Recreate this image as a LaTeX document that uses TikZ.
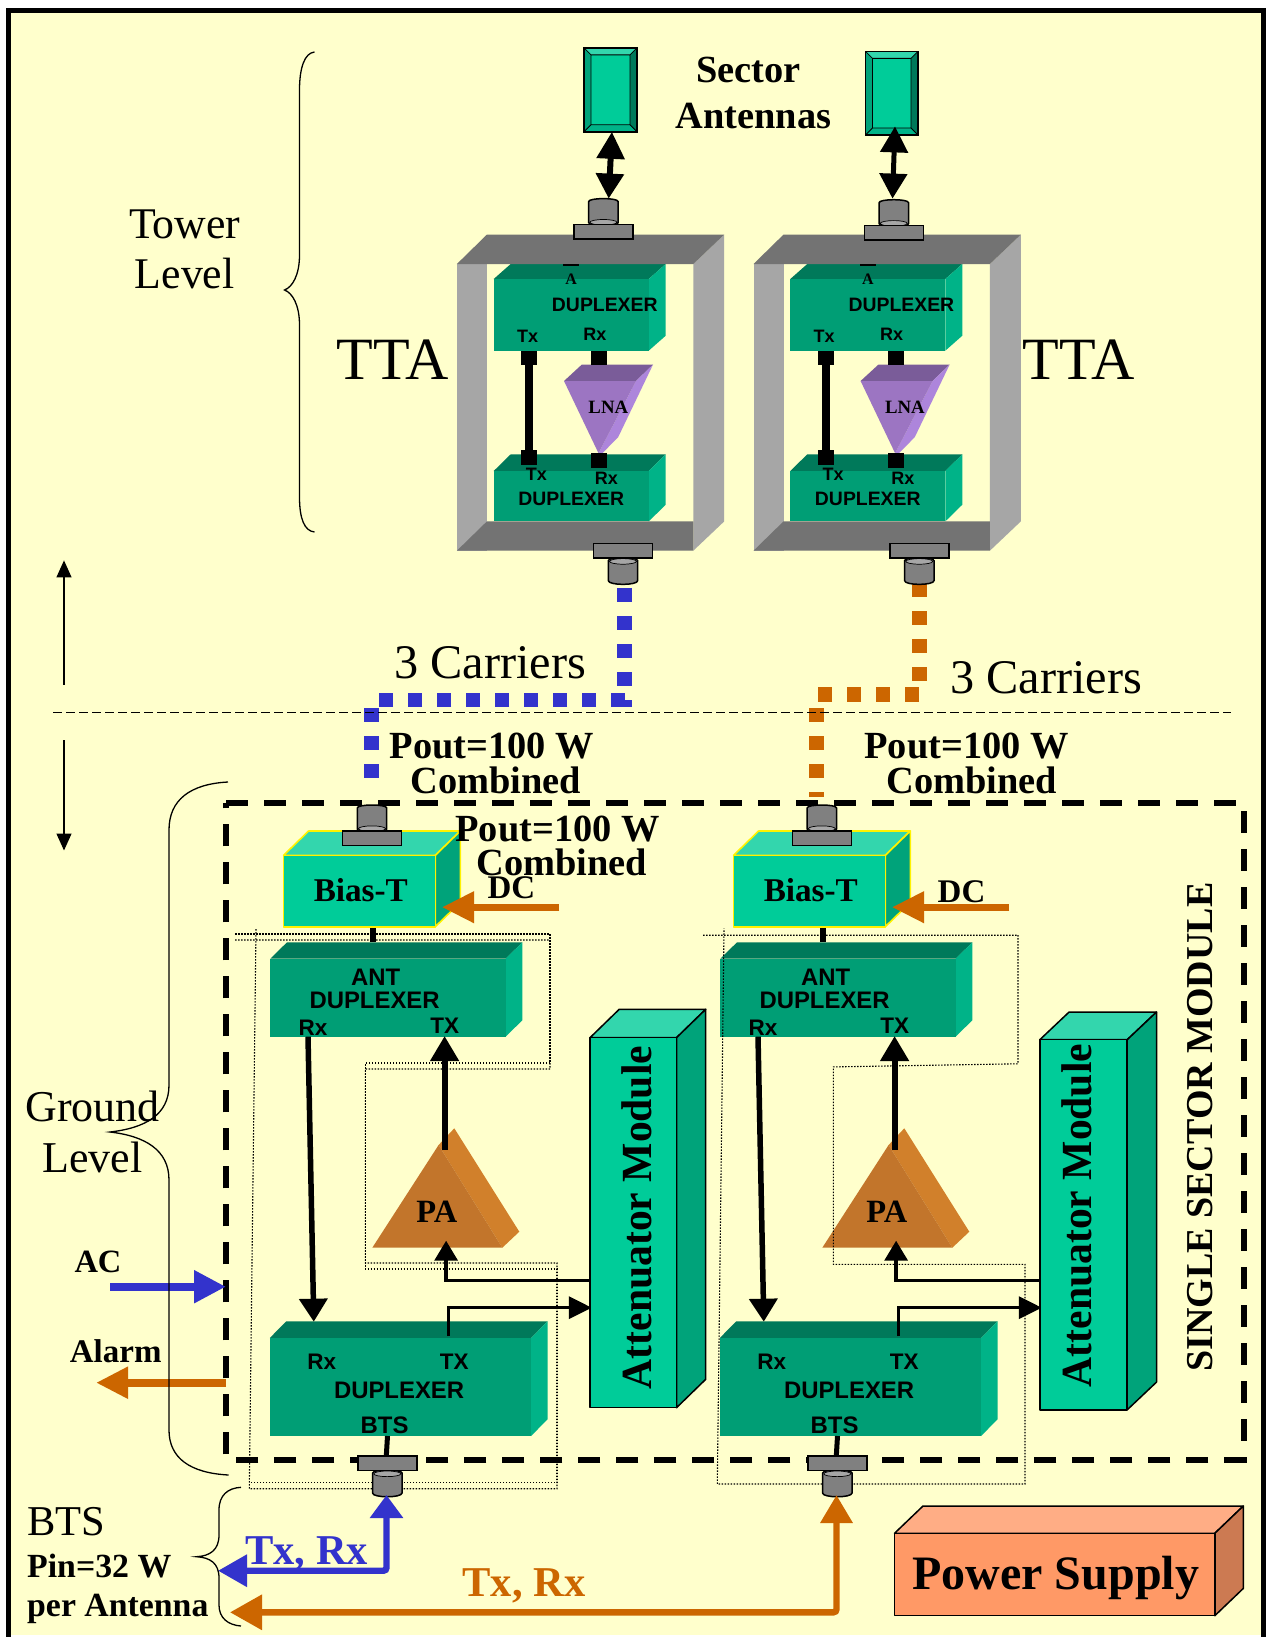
\documentclass[tikz,border=0pt]{standalone}
\usepackage{fontspec}
\setmainfont{Liberation Serif}
\setsansfont{Liberation Sans}
\usetikzlibrary{arrows.meta}
\definecolor{bgy}{HTML}{FFFFCC}
\definecolor{dupF}{HTML}{009E75}
\definecolor{dupT}{HTML}{00795A}
\definecolor{dupS}{HTML}{00B388}
\definecolor{modF}{HTML}{00CC99}
\definecolor{modT}{HTML}{33D6AD}
\definecolor{modS}{HTML}{00A37A}
\definecolor{psF}{HTML}{FF9966}
\definecolor{psT}{HTML}{FFAD85}
\definecolor{psS}{HTML}{CC7A52}
\definecolor{frL}{HTML}{A6A6A6}
\definecolor{frD}{HTML}{737373}
\definecolor{lnaF}{HTML}{9C75C2}
\definecolor{lnaT}{HTML}{7A5C99}
\definecolor{lnaS}{HTML}{AD85DB}
\definecolor{paF}{HTML}{C2752B}
\definecolor{paS}{HTML}{D1802B}
\definecolor{orng}{HTML}{CC6600}
\definecolor{blu}{HTML}{3333CC}
\definecolor{congray}{HTML}{808080}
\definecolor{conlight}{HTML}{A6A6A6}
\tikzset{
  txtb/.style={inner sep=0pt,font=\fontsize{#1}{#1}\selectfont\bfseries},
  txtr/.style={inner sep=0pt,font=\fontsize{#1}{#1}\selectfont},
  txts/.style={inner sep=0pt,font=\fontsize{#1}{#1}\selectfont\sffamily\bfseries},
  thin line/.style={line width=1.3pt},
  squaredash/.style={line width=14.5pt,dash pattern=on 14pt off 14pt},
  squaredashh/.style={line width=14.5pt,dash pattern=on 14.5pt off 14.5pt},
  dots/.style={line width=1.1pt,dash pattern=on 1.5pt off 1.5pt,black},
  boxline/.style={draw=black,line width=1.5pt,line join=round},
  biasline/.style={draw=yellow,line width=1.6pt,line join=round},
}
% front x0 y0 x1 y1, depth dx dy, palette prefix, draw options
\newcommand{\prism}[8]{%
  \path[fill=#7T,#8] (#1,#2)--(#1+#5,#2-#6)--(#3+#5,#2-#6)--(#3,#2)--cycle;
  \path[fill=#7S,#8] (#3,#2)--(#3+#5,#2-#6)--(#3+#5,#4-#6)--(#3,#4)--cycle;
  \path[fill=#7F,#8] (#1,#2) rectangle (#3,#4);
}
% antenna x0 y0 x1 y1
\newcommand{\antenna}[4]{%
  \fill[modS] (#1,#2) rectangle (#3,#4);
  \fill[modT] (#1,#2)--(#3,#2)--(#3-7,#2+7)--(#1+7,#2+7)--cycle;
  \fill[dupT] (#3,#2)--(#3,#4)--(#3-7,#4-7)--(#3-7,#2+7)--cycle;
  \fill[dupS] (#1,#4)--(#3,#4)--(#3-7,#4-7)--(#1+7,#4-7)--cycle;
  \fill[modF] (#1+7,#2+7) rectangle (#3-7,#4-7);
  \draw[line width=1.5pt] (#1,#2) rectangle (#3,#4);
  \draw[line width=.8pt] (#1,#2)--(#1+7,#2+7) (#3,#2)--(#3-7,#2+7) (#1,#4)--(#1+7,#4-7) (#3,#4)--(#3-7,#4-7) (#1+7,#2+7) rectangle (#3-7,#4-7);
}
% connector with cylinder above the plate: cx, plate top
\newcommand{\conup}[2]{%
  \begin{scope}[shift={(#1,#2)}]
    \filldraw[fill=congray,line width=1.5pt] (-14.7,-2)--(-14.7,-23) .. controls (-14.7,-27) and (14.7,-27) .. (14.7,-23)--(14.7,-2) .. controls (14.7,2.5) and (-14.7,2.5) .. (-14.7,-2)--cycle;
    \filldraw[fill=conlight,line width=.7pt] (0,-2.3) ellipse (13.5 and 2.8);
    \filldraw[fill=congray,line width=1.5pt] (-29.5,0) rectangle (29.5,14.5);
  \end{scope}
}
% connector with cylinder below the plate: cx, plate top
\newcommand{\condown}[2]{%
  \begin{scope}[shift={(#1,#2)}]
    \filldraw[fill=congray,line width=1.5pt] (-14.7,17)--(-14.7,37) .. controls (-14.7,42) and (14.7,42) .. (14.7,37)--(14.7,17) .. controls (14.7,13) and (-14.7,13) .. (-14.7,17)--cycle;
    \filldraw[fill=conlight,line width=.7pt] (0,17.8) ellipse (13.5 and 2.8);
    \filldraw[fill=congray,line width=1.5pt] (-29.5,0) rectangle (29.5,14.5);
  \end{scope}
}
% tower-top amplifier: prefix, x shift
\newcommand{\tta}[2]{%
  \begin{scope}[shift={(#2,0)}]
    \fill[frL] (456.4,264) rectangle (486.4,550.7);
    \fill[frL] (692.8,264)--(723.7,234.6)--(723.7,521.4)--(692.8,550.7)--cycle;
    \prism{493.2}{279}{648.2}{350.7}{17}{15}{dup}{}
    \prism{493.2}{471}{648.2}{521.4}{17}{16.7}{dup}{}
    \fill[frD] (456.4,264)--(486.4,234.6)--(723.7,234.6)--(692.8,264)--cycle;
    \fill[frD] (456.4,550.7)--(486.4,521.4)--(692.8,521.4)--(692.8,550.7)--cycle;
    \fill (562.7,264) rectangle (578.6,265.7);
    \fill[lnaT] (563.5,381)--(581.3,364.6)--(652.5,364.6)--(635.5,381)--cycle;
    \fill[lnaS] (635.5,381)--(652.5,364.6)--(617.7,437.1)--(601.9,453.2)--(598,453.2)--cycle;
    \fill[lnaF] (563.5,381)--(635.5,381)--(598,453.2)--cycle;
    \fill (520.8,350.7) rectangle (536.6,364.6);
    \fill (590.8,350.7) rectangle (606.6,364.6);
    \fill (520.8,450) rectangle (536.6,464.6);
    \fill (590.8,452.9) rectangle (606.6,467.5);
    \coordinate (#1link1) at (528.7,364.6);
    \coordinate (#1link2) at (528.7,450);
    \draw[line width=7.5pt] (#1link1)--(#1link2);
    \node[txtb=16] (#1a) at (570.7,279.3) {A};
    \node[txts=19.4] (#1d1) at (604.3,305) {DUPLEXER};
    \node[txts=18] (#1t1) at (527,336) {Tx};
    \node[txts=18] (#1r1) at (594.4,334) {Rx};
    \node[txtb=18.8] (#1lna) at (607.8,406.8) {LNA};
    \node[txts=18] (#1t2) at (535.9,474.3) {Tx};
    \node[txts=18] (#1r2) at (605.8,477.9) {Rx};
    \node[txts=19.4] (#1d2) at (570.7,498.6) {DUPLEXER};
  \end{scope}
}
% ground module: prefix, x shift
\newcommand{\module}[2]{%
  \begin{scope}[shift={(#2,0)}]
    \prism{283.3}{855.3}{435}{926.7}{25}{24.3}{mod}{biasline}
    \prism{270}{958.7}{505.3}{1036.7}{16.7}{16.4}{dup}{}
    \prism{269.5}{1338}{530.8}{1436}{16.4}{16.7}{dup}{}
    \fill[paS] (438.3,1145)--(454,1128.3)--(519,1231.7)--(502,1247.7)--cycle;
    \fill[paF] (372,1247.7)--(502,1247.7)--(438.3,1145)--cycle;
    \coordinate (#1l1) at (373,928);
    \coordinate (#1l2) at (373,942);
    \draw[line width=6pt] (#1l1)--(#1l2);
    \coordinate (#1rxa) at (307.7,1036.7);
    \coordinate (#1rxb) at (313.5,1321.7);
    \draw[line width=5.5pt,-{Triangle[length=23pt,width=27.5pt]}] (#1rxa)--(#1rxb);
    \coordinate (#1txa) at (444.3,1150);
    \coordinate (#1txb) at (444.3,1036);
    \draw[line width=6pt,-{Triangle[length=25pt,width=27.5pt]}] (#1txa)--(#1txb);
    \coordinate (#1pa1) at (590,1280.7);
    \coordinate (#1pa2) at (445.8,1240.7);
    \draw[line width=3.5pt,-{Triangle[length=20pt,width=23pt]}] (#1pa1) -| (#1pa2);
    \coordinate (#1at1) at (448,1336);
    \coordinate (#1at2) at (591.5,1307.7);
    \draw[line width=3.5pt,-{Triangle[length=23pt,width=22pt]}] (#1at1) |- (#1at2);
    \coordinate (#1b1) at (387.2,1436);
    \coordinate (#1b2) at (386,1456);
    \draw[line width=5pt] (#1b1)--(#1b2);
    \coordinate (#1dc1) at (559,907.2);
    \coordinate (#1dc2) at (441.7,907.2);
    \draw[orng,line width=7pt,-{Triangle[length=32pt,width=30pt]}] (#1dc1)--(#1dc2);
    \node[txtb=33.2] (#1bias) at (360.5,890) {Bias-T};
    \node[txts=23.9] (#1ant) at (375.3,977.5) {ANT};
    \node[txts=23.9] (#1d1) at (374.3,1000) {DUPLEXER};
    \node[txts=22.5] (#1r1) at (312.7,1027.5) {Rx};
    \node[txts=22.5] (#1t1) at (444.5,1025.5) {TX};
    \node[txtb=32.5] (#1pa) at (436.5,1211.5) {PA};
    \node[txts=22.5] (#1r2) at (321.4,1362) {Rx};
    \node[txts=22.5] (#1t2) at (454,1362) {TX};
    \node[txts=23.9] (#1d2) at (398.8,1390.5) {DUPLEXER};
    \node[txts=23.9] (#1bts) at (384.3,1425.7) {BTS};
  \end{scope}
}
\begin{document}
\begin{tikzpicture}[x=1pt,y=-1pt]
\useasboundingbox (0,0) rectangle (1267,1637);
\fill[white] (0,0) rectangle (1267,1637);
\fill[bgy] (8.5,10.5) rectangle (1263.5,1634.5);
\draw[line width=5.6pt] (8.5,10.5) rectangle (1263.5,1640);
% sector antennas
\antenna{584}{47.9}{637}{131.8}
\antenna{865.5}{51.4}{918}{135}
% tower amplifiers
\tta{ta}{0.5}
\tta{tb}{297.1}
\conup{603.4}{224.6}
\conup{893.8}{225.7}
\coordinate (ant1) at (611.9,131.8);
\coordinate (con1) at (608.7,198.6);
\coordinate (ant2) at (895,126.4);
\coordinate (con2) at (892.5,198.6);
\draw[line width=6pt,{Triangle[length=27pt,width=27pt]}-{Triangle[length=25pt,width=27pt]}] (ant1)--(con1);
\draw[line width=5pt,{Triangle[length=26pt,width=27pt]}-{Triangle[length=25pt,width=27pt]}] (ant2)--(con2);
% feeders
\coordinate (bf1) at (624.4,588);
\coordinate (bf2) at (624.4,707);
\coordinate (bf3) at (625,700);
\coordinate (bf4) at (378.5,700);
\coordinate (bf5) at (371.6,708);
\coordinate (bf6) at (371.6,778);
\draw[blu,squaredash] (bf1)--(bf2);
\draw[blu,squaredashh] (bf3)--(bf4);
\draw[blu,squaredash] (bf5)--(bf6);
\coordinate (of1) at (919.4,583);
\coordinate (of2) at (919.4,682);
\coordinate (of3) at (919,694.5);
\coordinate (of4) at (817,694.5);
\coordinate (of5) at (816.7,708);
\coordinate (of6) at (816.7,797);
\draw[orng,squaredash] (of1)--(of2);
\draw[orng,squaredashh] (of3)--(of4);
\draw[orng,squaredash] (of5)--(of6);
\condown{623}{543.6}
\condown{919.3}{543.6}
% level line and arrows
\coordinate (lv1) at (53,712);
\coordinate (lv2) at (1231,712);
\draw[line width=1pt,dash pattern=on 9pt off 4pt] (lv1)--(lv2);
\coordinate (up1) at (64,684.6);
\coordinate (up2) at (64,560.4);
\coordinate (dn1) at (64,740);
\coordinate (dn2) at (64,850.5);
\draw[line width=1.3pt,-{Triangle[length=17pt,width=15pt]}] (up1)--(up2);
\draw[line width=1.3pt,-{Triangle[length=17pt,width=15pt]}] (dn1)--(dn2);
% single sector module
\draw[line width=6pt,dash pattern=on 22pt off 16pt] (226,802.7) -- (1243.5,802.7) -- (1243.5,1460) -- (226,1460) -- cycle;
\module{ma}{0.3}
\module{mb}{450.3}
% dotted outlines
\draw[dots] (235,934)--(550,934)--(550,1063)--(365.3,1063)--(365.3,1269)--(557,1269)--(557,1482.7)--(249.3,1482.7);
\draw[dots] (235,940)--(550,940)--(550,1069)--(365.3,1069)--(365.3,1263)--(557,1263)--(557,1488.7)--(249.3,1488.7)--(256,928);
\draw[dots] (703,935.2)--(1018,935.2)--(1018,1063.8)--(833.3,1066.9)--(833.3,1264.3)--(1025,1264.3)--(1025,1484)--(717.3,1484)--(724,928.7);
% connectors over dotted lines
\conup{372}{831}
\conup{821.8}{831}
\condown{387.3}{1456}
\condown{837.3}{1456}
% attenuators
\prism{590}{1037.7}{676.5}{1407.7}{29.2}{28.4}{mod}{boxline}
\prism{1039.8}{1039.7}{1127.2}{1409.8}{29.3}{27.7}{mod}{boxline}
\node[txtb=43,rotate=90] (at1) at (637,1217.5) {\scalebox{0.968}[1]{Attenuator Module}};
\node[txtb=43,rotate=90] (at2) at (1077,1215.5) {\scalebox{0.968}[1]{Attenuator Module}};
% power supply
\prism{894.5}{1533.3}{1214.8}{1615.7}{28.5}{27.3}{ps}{boxline}
\node[txtb=48] (psu) at (1055.7,1578.5) {Power Supply};
% AC and alarm
\coordinate (ac1) at (110.2,1286.7);
\coordinate (ac2) at (226,1286.7);
\draw[blu,line width=8pt,-{Triangle[length=32pt,width=31pt]}] (ac1)--(ac2);
\coordinate (al1) at (226,1382.7);
\coordinate (al2) at (96,1382.7);
\draw[orng,line width=8pt,-{Triangle[length=32pt,width=30pt]}] (al1)--(al2);
% BTS feeds
\coordinate (ba) at (218,1570.7);
\coordinate (bb) at (386.5,1570.7);
\coordinate (bc) at (386.5,1495);
\draw[blu,line width=6.4pt,rounded corners=3pt,{Triangle[length=29pt,width=31pt]}-{Triangle[length=23pt,width=32pt]}] (ba)--(bb)--(bc);
\coordinate (oa) at (230,1612.3);
\coordinate (ob) at (836.5,1612.3);
\coordinate (oc) at (836.5,1495);
\draw[orng,line width=6.4pt,rounded corners=3pt,{Triangle[length=32pt,width=34pt]}-{Triangle[length=28pt,width=31pt]}] (oa)--(ob)--(oc);
% braces
\draw[thin line] (314.5,52) .. controls (304.5,53) and (299.5,68) .. (299.5,90) -- (299.5,255) .. controls (299.5,275) and (292.5,287) .. (284.5,290) .. controls (292.5,293) and (299.5,305) .. (299.5,325) -- (299.5,497) .. controls (299.5,519) and (304.5,531) .. (314.5,532);
\draw[thin line] (228,782) .. controls (190,784) and (169,800) .. (169,830) -- (169,1085) .. controls (169,1115) and (145,1128) .. (110,1132) .. controls (145,1136) and (169,1150) .. (169,1180) -- (169,1430) .. controls (169,1458) and (190,1473) .. (228.6,1475);
\draw[thin line] (241,1487.3) .. controls (228,1488) and (219,1495) .. (219,1510) -- (219,1535) .. controls (219,1550) and (210,1556) .. (196.5,1556.7) .. controls (210,1557.5) and (219,1563) .. (219,1578) -- (219,1605) .. controls (219,1618) and (228,1625) .. (241,1626);
% labels
\node[txtb=38.4] (sec) at (748.5,70.3) {Sector};
\node[txtb=38.4] (ants) at (753.5,115.7) {Antennas};
\node[txtr=43.8] (tw) at (184.7,224.4) {Tower};
\node[txtr=43.8] (tl) at (184.7,273.4) {Level};
\node[txtr=60] (tta1) at (392.4,360) {TTA};
\node[txtr=60] (tta2) at (1078.5,360) {TTA};
\node[txtr=48.3] (c1) at (490,662.7) {3 Carriers};
\node[txtr=48.3] (c2) at (1046.2,677.3) {3 Carriers};
\node[txtb=38.4] (p1) at (491.7,746.5) {Pout=100 W};
\node[txtb=38.4] (pc1) at (496,780.8) {Combined};
\node[txtb=38.4] (p2) at (966.6,746.5) {Pout=100 W};
\node[txtb=38.4] (pc2) at (971.8,780.8) {Combined};
\node[txtb=38.4] (p3) at (557.5,829) {Pout=100 W};
\node[txtb=38.4] (pc3) at (561.7,862) {Combined};
\node[txtb=33] (dc1) at (511.4,887.5) {DC};
\node[txtb=33] (dc2) at (961.5,891.5) {DC};
\node[txtb=38,rotate=90] (ssm) at (1200,1127) {SINGLE SECTOR MODULE};
\node[txtr=44] (gr) at (92.5,1106.5) {Ground};
\node[txtr=44] (gl) at (92.5,1157) {Level};
\node[txtb=32.5] (ac) at (98,1261.5) {AC};
\node[txtb=33] (al) at (115.7,1350.7) {Alarm};
\node[txtr=42.5,anchor=west] (bts) at (27,1522) {BTS};
\node[txtb=33.8,anchor=west] (pin) at (27,1566) {Pin=32 W};
\node[txtb=33.8,anchor=west] (per) at (27,1608.5) {per Antenna};
\node[txtb=42.5,text=blu] (tr1) at (306.7,1554) {Tx, Rx};
\node[txtb=42.5,text=orng] (tr2) at (524,1586) {Tx, Rx};
\end{tikzpicture}
\end{document}
